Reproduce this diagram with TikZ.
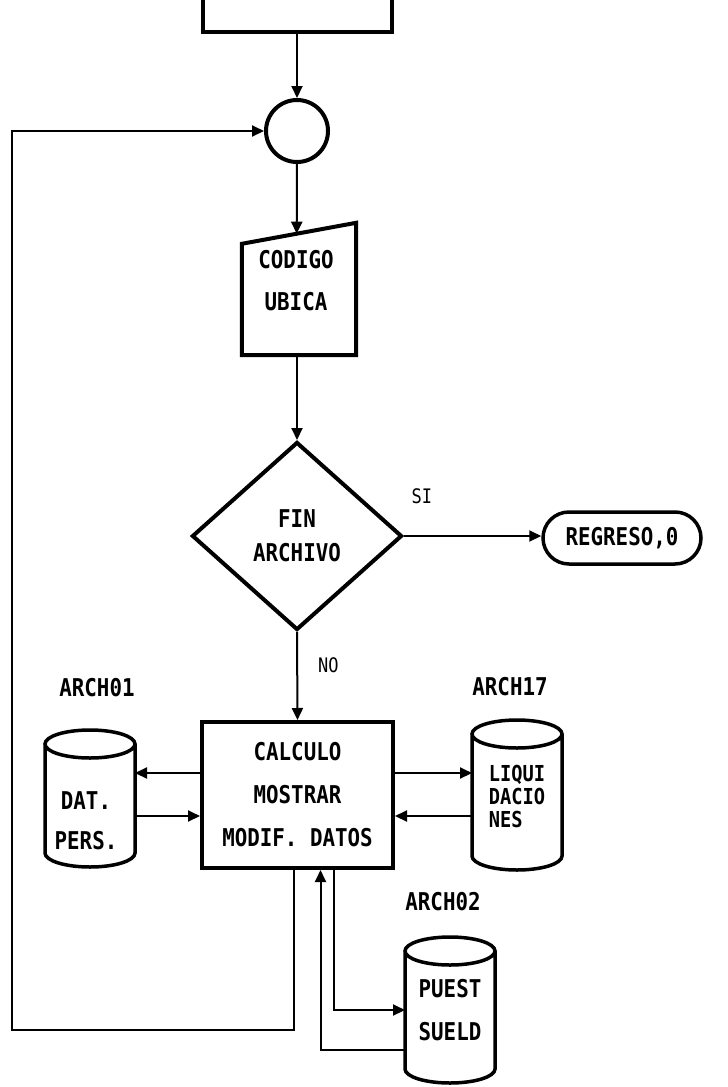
\documentclass[tikz,border=0pt]{standalone}
\usepackage{fontspec}
\newfontfamily\dotfont[FakeStretch=0.85]{DejaVu Sans Mono}
\usetikzlibrary{arrows.meta}
\usetikzlibrary{positioning, calc}
\usetikzlibrary{shapes.geometric}
\tikzset{
flow/.style = {line width=2pt, -{Triangle[length=12pt,width=11pt]}},
box/.style = {draw, line width=4pt, rectangle, inner sep=0pt},
db/.style = {rectangle, minimum width=90pt, inner sep=0pt, outer sep=0pt},
txt/.style = {font=\dotfont\bfseries\fontsize{24.5}{#1}\selectfont,
              align=center, inner sep=0pt},
txt/.default = 42,
tag/.style = {font=\dotfont\fontsize{20}{20}\selectfont, inner sep=0pt}
}

\begin{document}
\begin{tikzpicture}[x=1pt, y=-1pt]
    \useasboundingbox (0,0) rectangle (728,1087);
    \clip (0,0) rectangle (728,1087);

    \node[box, minimum width=189pt, minimum height=64pt] (start) at (297,0) {};
    \node[draw, circle, line width=4pt, minimum size=62pt, inner sep=0pt] (join) at (297,131) {};

    % entrada manual
    \node[minimum width=114pt, minimum height=132pt, inner sep=0pt] (input) at (299,289) {};
    \coordinate (slant) at ($(input.north west)+(0,21)$);
    \draw[line width=4pt] (slant) -- (input.north east)
        -- (input.south east) -- (input.south west) -- cycle;
    \node[txt] at ($(input.center)+(-3,-8)$) {CODIGO\\UBICA};

    \node[draw, diamond, line width=4pt, minimum width=210pt, minimum height=188pt,
          txt=34] (fin) at (297,536) {FIN\\ARCHIVO};
    \node[box, rounded corners=26pt, minimum width=158pt, minimum height=52pt,
          line width=3.5pt, txt] (end) at (622,538) {REGRESO,0};

    \node[box, minimum width=191pt, minimum height=146pt, txt=43] (proc) at (297.5,795)
        {CALCULO\\MOSTRAR\\MODIF. DATOS};

    % archivos (cuerpo del cilindro)
    \node[db, minimum height=109pt] (arch01) at (90,798.5) {};
    \node[db, minimum height=122pt] (arch17) at (517,795) {};
    \node[db, minimum height=118pt] (arch02) at (450,1010) {};
    \foreach \n in {arch01, arch17, arch02}
        \draw[line width=3.5pt] (\n.north west) -- (\n.south west)
            arc[start angle=180, end angle=360, x radius=45pt, y radius=14pt]
            -- (\n.north east)
            arc[start angle=0, end angle=360, x radius=45pt, y radius=14pt];
    \node[txt=40] at ($(arch01.center)+(-4,22)$) {DAT.\\PERS.};
    \node[txt, align=left, font=\dotfont\bfseries\fontsize{22}{23}\selectfont]
        at ($(arch17.center)+(0,1)$) {LIQUI\\DACIO\\NES};
    \node[txt=43] at (arch02.center) {PUEST\\SUELD};
    \node[txt, above=47pt of arch01, xshift=7pt] {ARCH01};
    \node[txt, above=38pt of arch17, xshift=-7pt] {ARCH17};
    \node[txt, above=40pt of arch02, xshift=-7pt] {ARCH02};

    \coordinate (r1) at (0,773);
    \coordinate (r2) at (0,816);
    \coordinate (loop) at (12,1030);

    \draw[flow] (start) -- (join);
    \draw[flow] (join) -- ($(slant)!0.48!(input.north east)$);
    \draw[flow] (input.south -| fin.north) -- (fin.north);
    \draw[flow] (fin.east) -- node[tag, pos=0.13, above=31pt] {SI} (fin.east -| end.west);
    \draw[flow] (fin.south) -- node[tag, pos=0.38, right=20pt] {NO} (proc.north);
    \draw[flow] (proc.west |- r1) -- (arch01.east |- r1);
    \draw[flow] (arch01.east |- r2) -- (proc.west |- r2);
    \draw[flow] (proc.east |- r1) -- (arch17.west |- r1);
    \draw[flow] (arch17.west |- r2) -- (proc.east |- r2);
    \draw[flow] ($(proc.south)+(36,0)$) |- (arch02.west);
    \draw[flow] ($(arch02.west)+(0,40)$) -| ($(proc.south)+(23,0)$);
    \draw[flow] ($(proc.south)+(-4,0)$) |- (loop) |- (join.west);
\end{tikzpicture}
\end{document}
